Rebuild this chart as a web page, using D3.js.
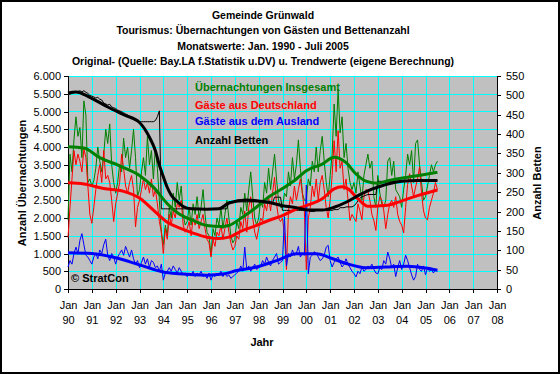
<!DOCTYPE html>
<html>
<head>
<meta charset="utf-8">
<script src="https://cdn.jsdelivr.net/npm/d3@7/dist/d3.min.js"></script>
<style>
body { margin: 0; background: #fff; }
svg text { font-family: "Liberation Sans", Arial, sans-serif; }
</style>
</head>
<body>
<div id="chart"></div>
<script>
// monthly values Jan 1990 - Jul 2005 (one row per year)
const insgesamt = [
  1950, 3800, 3300, 4200, 4850, 4300, 4550, 3700, 5300, 4900, 3000, 3100,
  2900, 3050, 3400, 4000, 3600, 3300, 3800, 4500, 4100, 4650, 3500, 3000,
  2700, 3000, 3500, 3300, 4250, 3700, 4000, 3400, 3900, 4500, 3700, 2600,
  2800, 3300, 3700, 3200, 4300, 3500, 3900, 3100, 4000, 3400, 2500, 1600,
  1250, 1800, 1500, 2300, 2000, 2700, 2300, 3000, 2500, 2900, 2100, 1800,
  1900, 2300, 1800, 2400, 2100, 2600, 2000, 2300, 2800, 2100, 1600, 1500,
  950, 1700, 1500, 2000, 1800, 2300, 1700, 2100, 2500, 2000, 1500, 1300,
  1400, 1900, 1700, 2300, 2100, 2700, 2200, 2800, 3300, 2600, 2000, 1800,
  2000, 2500, 2300, 3000, 2700, 3400, 2800, 3300, 3800, 3100, 2500, 2300,
  2300, 2700, 2600, 3300, 2900, 3700, 3100, 3500, 4200, 3400, 2700, 2500,
  2500, 3100, 2900, 3600, 3300, 4000, 3300, 3900, 4300, 3600, 3000, 2600,
  3200, 3800, 5210, 4300, 5630, 4400, 4850, 3700, 4100, 3400, 3000, 2800,
  3000, 2700, 3300, 2900, 2500, 3200, 3500, 3800, 3400, 3600, 2600, 2300,
  3200, 2700, 2400, 2300, 2500, 3600, 3700, 3200, 3600, 2800, 2700, 2600,
  2300, 2800, 3200, 3800, 3500, 3900, 3000, 4100, 4200, 3500, 3000, 2500,
  2600, 2900, 3200, 3500, 3300, 3500, 3600
];
const deutschland = [
  1450, 2300, 3100, 3900, 3500, 3800, 3600, 3300, 3950, 3700, 2900, 2100,
  1850, 2300, 2800, 3200, 3500, 3000, 3900, 3100, 3200, 3000, 2500, 1900,
  2400, 2700, 3000, 3800, 3400, 2900, 2700, 3000, 3200, 2800, 1750, 2300,
  2500, 2800, 3100, 2800, 3000, 2700, 3100, 2600, 2800, 2400, 1900, 1600,
  1000, 1700, 1400, 2100, 1800, 2200, 2000, 2400, 2300, 2500, 1800, 1600,
  1700, 1900, 1500, 2000, 1800, 2100, 1700, 1900, 2100, 1700, 1400, 1300,
  900, 1400, 1200, 1600, 1500, 1800, 1400, 1700, 2000, 1600, 1300, 1100,
  1200, 1500, 1400, 1900, 1700, 2200, 1600, 2300, 2600, 2000, 1600, 1400,
  1700, 2000, 1900, 2400, 2200, 2600, 2200, 2700, 3150, 2400, 2000, 1900,
  2000, 1500, 550, 2200, 2600, 2400, 2900, 2500, 2800, 3100, 2700, 2200,
  540, 2000, 2300, 2900, 2600, 3100, 2500, 3000, 3200, 2800, 2300, 2000,
  2500, 3200, 4180, 3300, 4460, 3400, 3600, 2800, 3100, 2500, 1930, 2100,
  2000, 1900, 2400, 2200, 1950, 2600, 2800, 2775, 2500, 2100, 1930, 1650,
  2300, 2600, 2500, 2200, 1700, 2100, 2400, 2500, 2300, 2600, 2100, 1900,
  1800, 1580, 2300, 2950, 3250, 2900, 2600, 2870, 3100, 3430, 2700, 2200,
  2000, 1950, 2300, 2500, 2700, 3000, 2800
];
const ausland = [
  620, 800, 700, 1000, 1180, 1000, 1370, 1560, 1250, 950, 900, 800,
  700, 900, 1000, 850, 1100, 1000, 1250, 1400, 950, 800, 1000, 900,
  700, 900, 1000, 1100, 950, 1200, 1050, 900, 1100, 850, 700, 800,
  600, 750, 900, 700, 850, 600, 800, 750, 600, 650, 500, 700,
  250, 450, 500, 600, 500, 650, 550, 450, 600, 500, 400, 450,
  350, 450, 400, 500, 350, 450, 400, 500, 350, 400, 300, 450,
  250, 400, 350, 450, 400, 500, 350, 450, 350, 400, 300, 350,
  400, 450, 500, 650, 500, 1180, 550, 650, 500, 600, 700, 550,
  600, 650, 800, 700, 900, 750, 650, 800, 900, 1000, 700, 750,
  800, 2040, 650, 1000, 900, 1100, 950, 1000, 1200, 900, 1000, 950,
  2930, 430, 900, 950, 1050, 1000, 900, 800, 850, 950, 1180, 1230,
  800, 620, 750, 850, 900, 750, 620, 700, 850, 700, 600, 500,
  430, 340, 500, 430, 620, 500, 550, 650, 600, 700, 550, 450,
  430, 600, 550, 800, 700, 1040, 850, 600, 700, 350, 600, 800,
  550, 700, 950, 800, 600, 400, 250, 350, 700, 550, 500, 650,
  400, 600, 500, 550, 450, 550, 500
];
const betten = [
  502, 503, 505, 507, 508, 510, 512, 509, 512, 508, 505, 500,
  498, 496, 493, 495, 490, 488, 480, 478, 475, 477, 470, 468,
  466, 462, 460, 458, 455, 452, 450, 446, 442, 438, 435, 433,
  432, 432, 432, 432, 432, 432, 432, 432, 435, 445, 460, 207,
  207, 207, 207, 207, 207, 207, 207, 207, 207, 207, 207, 207,
  207, 207, 207, 207, 207, 207, 207, 207, 207, 207, 207, 207,
  207, 207, 207, 207, 207, 207, 207, 207, 207, 225, 225, 225,
  225, 225, 225, 225, 225, 225, 225, 225, 225, 225, 225, 225,
  225, 222, 222, 222, 222, 222, 222, 222, 237, 237, 237, 237,
  203, 203, 203, 203, 203, 203, 203, 203, 203, 203, 203, 203,
  203, 203, 200, 200, 200, 203, 203, 203, 203, 203, 203, 203,
  203, 203, 205, 205, 205, 210, 210, 210, 212, 212, 212, 212,
  215, 220, 228, 235, 238, 240, 242, 244, 244, 244, 244, 244,
  278, 278, 278, 278, 278, 278, 278, 278, 278, 278, 278, 278,
  280, 280, 280, 280, 280, 280, 280, 280, 280, 280, 280, 280,
  280, 280, 280, 280, 280, 280, 280
];

// trend values (own calculation), [month index, value]
const trendInsgesamt = [[0,4010],[8,3970],[16,3700],[26,3470],[36,3200],[43,2870],[50,2400],[56,2110],[63,1930],[70,1790],[77,1760],[81,1790],[88,2030],[95,2310],[101,2590],[108,2830],[115,3100],[120,3330],[128,3520],[134,3710],[140,3560],[145,3240],[150,3040],[156,2980],[161,3050],[171,3150],[181,3240],[186,3290]];
const trendDeutschland = [[0,2990],[8,2960],[18,2830],[28,2750],[36,2560],[43,2220],[50,1880],[57,1700],[63,1575],[70,1460],[76,1420],[81,1460],[88,1650],[95,1790],[101,1930],[108,2070],[115,2250],[120,2350],[128,2540],[134,2820],[138,2880],[141,2820],[146,2540],[151,2330],[156,2340],[161,2360],[166,2440],[171,2540],[176,2630],[186,2790]];
const trendAusland = [[0,1020],[12,1000],[24,880],[36,680],[48,480],[56,430],[70,390],[78,420],[85,520],[95,620],[105,800],[115,990],[125,990],[133,860],[140,720],[150,600],[160,620],[171,640],[180,590],[186,530]];
const trendBetten = [[0,506],[4,509],[11,495],[20,470],[28,450],[36,430],[41,392],[44,357],[46,320],[48,290],[50,262],[52,242],[55,226],[58,213],[62,207],[70,206],[76,207],[81,222],[90,230],[95,228],[101,224],[108,215],[115,210],[121,204],[128,204],[134,211],[140,224],[146,241],[153,258],[156,263],[161,271],[168,278],[176,280],[186,280]];

const yearLabels = ["90","91","92","93","94","95","96","97","98","99","00","01","02","03","04","05","06","07","08"];
const titles = [
  "Gemeinde Grünwald",
  "Tourismus: Übernachtungen von Gästen und Bettenanzahl",
  "Monatswerte: Jan. 1990 - Juli 2005",
  "Original- (Quelle: Bay.LA f.Statistik u.DV) u. Trendwerte (eigene Berechnung)"
];
const legendNames = ["Übernachtungen Insgesamt", "Gäste aus Deutschland", "Gäste aus dem Ausland", "Anzahl Betten"];
const colors = ["#008000", "#ff0000", "#0000ff", "#000000"];

// ----------------------------------------------------------

var margin = { top: 76, right: 63, bottom: 85, left: 68 },
    width = 560 - margin.left - margin.right,
    height = 374 - margin.top - margin.bottom;

var root = d3.select("#chart")
    .append("svg")
    .attr("width", 560)
    .attr("height", 374);

root.append("rect")
    .attr("x", 1).attr("y", 1)
    .attr("width", 558).attr("height", 372)
    .attr("fill", "#fff")
    .attr("stroke", "#000")
    .attr("stroke-width", 2);

var svg = root.append("g")
    .attr("transform", "translate(" + margin.left + "," + margin.top + ")");

const de = d3.formatLocale({ decimal: ",", thousands: ".", grouping: [3], currency: ["", " €"] });

var x = d3.scaleLinear().domain([0, 216]).range([0, width]);
var y = d3.scaleLinear().domain([0, 6000]).range([height, 0]);
var yBetten = d3.scaleLinear().domain([0, 550]).range([height, 0]);

svg.append("rect")
    .attr("width", width).attr("height", height)
    .attr("fill", "#c0c0c0");

// grid
var grid = svg.append("g").attr("shape-rendering", "crispEdges");
grid.selectAll(".h").data(d3.range(500, 6001, 500)).enter()
    .append("line")
    .attr("x1", 0).attr("x2", width)
    .attr("y1", d => Math.round(y(d)) + 0.5).attr("y2", d => Math.round(y(d)) + 0.5)
    .attr("stroke", "#00ffff");
grid.selectAll(".v").data(d3.range(12, 216, 12)).enter()
    .append("line")
    .attr("y1", 0).attr("y2", height)
    .attr("x1", d => Math.round(x(d)) + 0.5).attr("x2", d => Math.round(x(d)) + 0.5)
    .attr("stroke", "#00ffff");

// axes
var yAxis = svg.append("g")
    .call(d3.axisLeft(y).tickValues(d3.range(0, 6001, 500)).tickSize(4).tickPadding(3).tickFormat(de.format(",d")));
var yAxisR = svg.append("g")
    .attr("transform", "translate(" + width + ",0)")
    .call(d3.axisRight(yBetten).tickValues(d3.range(0, 551, 50)).tickSize(4).tickPadding(5));
var xAxis = svg.append("g")
    .attr("transform", "translate(0," + height + ")")
    .call(d3.axisBottom(x).tickValues(d3.range(0, 217, 12)).tickSize(4).tickFormat(""));

[yAxis, yAxisR, xAxis].forEach(g => {
    g.selectAll("text").attr("font-size", 11).attr("fill", "#000").attr("font-family", "'Liberation Sans', Arial, sans-serif");
    g.selectAll("line,path").attr("stroke", "#000").attr("shape-rendering", "crispEdges");
});

xAxis.selectAll(".tick").each(function(d, i) {
    var t = d3.select(this);
    t.append("text").attr("y", 20).attr("text-anchor", "middle").attr("font-size", 11).attr("fill", "#000").text("Jan");
    t.append("text").attr("y", 35).attr("text-anchor", "middle").attr("font-size", 11).attr("fill", "#000").text(yearLabels[i]);
});

// monthly lines
var lineL = d3.line().x((d, i) => x(i)).y(d => y(d));
var lineR = d3.line().x((d, i) => x(i)).y(d => yBetten(d));
var lines = svg.append("g");
[insgesamt, deutschland, ausland].forEach((s, k) => {
    lines.append("path").datum(s)
        .attr("d", lineL)
        .attr("fill", "none")
        .attr("stroke", colors[k])
        .attr("stroke-width", 1);
});
lines.append("path").datum(betten)
    .attr("d", lineR)
    .attr("fill", "none")
    .attr("stroke", "#000")
    .attr("stroke-width", 1);

// trend lines
var trendL = d3.line().curve(d3.curveMonotoneX).x(d => x(d[0])).y(d => y(d[1]));
var trendR = d3.line().curve(d3.curveMonotoneX).x(d => x(d[0])).y(d => yBetten(d[1]));
[trendInsgesamt, trendDeutschland, trendAusland].forEach((s, k) => {
    lines.append("path").datum(s)
        .attr("d", trendL)
        .attr("fill", "none")
        .attr("stroke", colors[k])
        .attr("stroke-width", 3);
});
lines.append("path").datum(trendBetten)
    .attr("d", trendR)
    .attr("fill", "none")
    .attr("stroke", "#000")
    .attr("stroke-width", 3);

// legend
svg.selectAll(".legend").data(legendNames).enter()
    .append("text")
    .attr("x", 127)
    .attr("y", (d, i) => [15, 33, 49, 68][i])
    .attr("font-size", 11)
    .attr("font-weight", "bold")
    .attr("fill", (d, i) => colors[i])
    .text(d => d);

svg.append("text")
    .attr("x", 3).attr("y", 206)
    .attr("font-size", 11).attr("font-weight", "bold")
    .text("© StratCon");

// titles
root.selectAll(".title").data(titles).enter()
    .append("text")
    .attr("x", 263)
    .attr("y", (d, i) => 19 + i * 15.3)
    .attr("text-anchor", "middle")
    .attr("font-size", 10.5)
    .attr("font-weight", "bold")
    .text(d => d);

// axis titles
root.append("text")
    .attr("transform", "translate(26,183) rotate(-90)")
    .attr("text-anchor", "middle")
    .attr("font-size", 11).attr("font-weight", "bold")
    .text("Anzahl Übernachtungen");
root.append("text")
    .attr("transform", "translate(541,183) rotate(-90)")
    .attr("text-anchor", "middle")
    .attr("font-size", 11).attr("font-weight", "bold")
    .text("Anzahl Betten");
root.append("text")
    .attr("x", 262).attr("y", 346)
    .attr("text-anchor", "middle")
    .attr("font-size", 11).attr("font-weight", "bold")
    .text("Jahr");
</script>
</body>
</html>
